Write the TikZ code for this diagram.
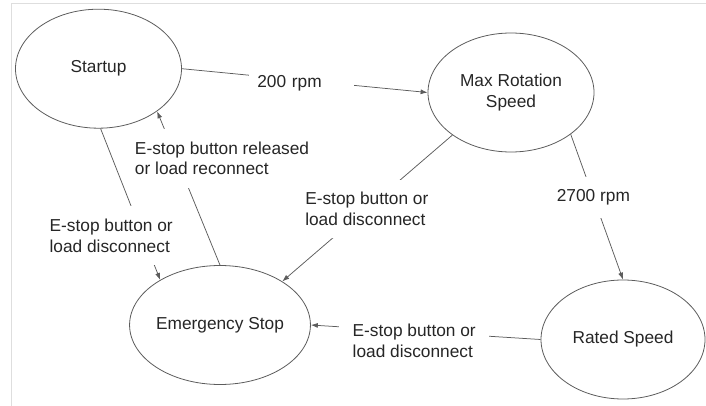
\documentclass[tikz,border=0pt]{standalone}
\usepackage{fontspec}
\setmainfont{Liberation Sans}
\usetikzlibrary{shapes.geometric,arrows.meta}
\definecolor{edgegray}{HTML}{5C5C5C}
\definecolor{inkgray}{HTML}{262626}
\definecolor{framegray}{HTML}{DEDEDE}
\newcommand\diagfont{\fontsize{17.3}{20.5}\selectfont}
\begin{document}
\begin{tikzpicture}[x=1pt,y=-1pt,
  state/.style={ellipse, draw=edgegray, line width=0.8pt,
    minimum width=166pt, minimum height=119pt, inner sep=0pt,
    align=center, text=inkgray, font=\diagfont},
  trans/.style={draw=edgegray, line width=0.75pt,
    -{Latex[length=7pt,width=5pt]}},
  cond/.style={fill=white, align=left, text=inkgray, font=\diagfont,
    inner xsep=8pt, inner ysep=12.5pt}]
\useasboundingbox (0,0) rectangle (706,406);

% thin frame along the top and left edges
\draw[framegray, line width=0.8pt] (11,406) -- (11,3) -- (706,3);

% states
\node[state] (startup) at (98.5,68.7) {Startup};
\node[state] (maxrot)  at (511,92.5)  {Max Rotation\\Speed};
\node[state] (estop)   at (220,325)   {Emergency Stop};
\node[state, minimum width=164pt] (rated) at (623,339.5) {Rated Speed};

% transitions
\draw[trans] (startup.east) --
  node[cond, pos=0.488, yshift=-3pt, text width=89pt, inner ysep=6pt] {200 rpm}
  (maxrot.west);
\draw[trans] (maxrot.-35.8) --
  node[cond, pos=0.434] {2700 rpm}
  (rated.north);
\draw[trans] (maxrot.-144) --
  node[cond, pos=0.503, inner xsep=10pt] {E-stop button or\\load disconnect}
  (estop.35);
\draw[trans] (startup.-88) --
  node[cond, pos=0.708, xshift=-31.6pt, inner xsep=6pt, inner ysep=13pt]
    {E-stop button or\\load disconnect}
  (estop.143.6);
\draw[trans] (estop.north) --
  node[cond, pos=0.693, xshift=45.6pt, inner xsep=6pt]
    {E-stop button released\\or load reconnect}
  (startup.-36);
\draw[trans] (rated.west) --
  node[cond, pos=0.55, yshift=-9.3pt, inner xsep=13.5pt]
    {E-stop button or\\load disconnect}
  (estop.east);
\end{tikzpicture}
\end{document}
